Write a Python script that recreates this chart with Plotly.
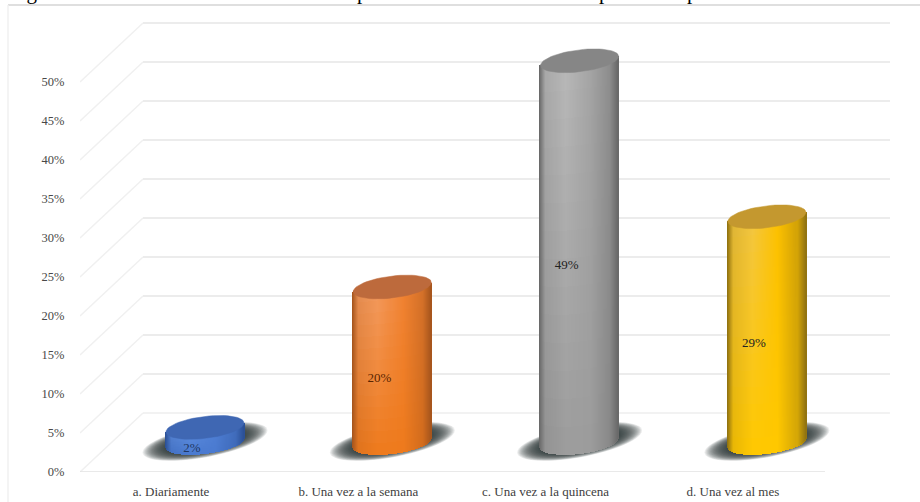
import numpy as np
import plotly.graph_objects as go

categories = ["a. Diariamente", "b. Una vez a la semana", "c. Una vez a la quincena", "d. Una vez al mes"]
values = [2, 20, 49, 29]
value_labels = ["2%", "20%", "49%", "29%"]
label_colors = ["#1f3864", "#5a2500", "#222222", "#222222"]
y_ticks = [0, 5, 10, 15, 20, 25, 30, 35, 40, 45, 50]
y_tick_labels = ["0%", "5%", "10%", "15%", "20%", "25%", "30%", "35%", "40%", "45%", "50%"]

# edge, light, mid, dark shades across each cylinder; top cap; lower-body tint
edge_colors = ["#2c5197", "#a8561d", "#6a6a6a", "#937410"]
light_colors = ["#5f8fe0", "#f39a5e", "#b8b8b8", "#f3c640"]
mid_colors = ["#4f7fd4", "#f08232", "#a4a4a4", "#fcc000"]
cap_colors = ["#3f67b3", "#bd6a3c", "#868686", "#c4982f"]
low_colors = ["#4a7ad0", "#ee7a1c", "#9c9c9c", "#ffc800"]

# scale: 187.3 px per category, 7.8 px per percentage point
PX_X = 187.3
PX_Y = 7.8
X0_PX = 205
PLOT_L, PLOT_R, PLOT_T, PLOT_B = 80, 900, 5, 472
x_range = [(PLOT_L - X0_PX) / PX_X, (PLOT_R - X0_PX) / PX_X]
y_range = [0, (PLOT_B - PLOT_T) / PX_Y]

half_w = 39 / PX_X
base_level = 29 / PX_Y
tilt = 4.5 / PX_Y
minor = 11 / PX_Y
depth_x = 63 / PX_X
depth_y = 59 / PX_Y
floor_end = (825 - X0_PX) / PX_X
wall_end = (890 - X0_PX) / PX_X


def hex_rgb(c):
    return np.array([int(c[j:j + 2], 16) for j in (1, 3, 5)], dtype=float)


def mix(a, b, f):
    return a + (b - a) * f


def rgb_str(c):
    return "rgb(%d,%d,%d)" % tuple(np.clip(np.round(c), 0, 255))


def shade(i, u, f):
    e, l, m = hex_rgb(edge_colors[i]), hex_rgb(light_colors[i]), hex_rgb(mid_colors[i])
    lo = hex_rgb(low_colors[i])
    l2 = mix(lo, l, f)
    m2 = mix(lo, m, f)
    stops_u = [-1.0, -0.85, -0.35, 0.3, 0.8, 1.0]
    stops_c = [e, mix(e, l2, 0.8), l2, m2, mix(m2, e, 0.4), e]
    return np.array([np.interp(u, stops_u, [c[k] for c in stops_c]) for k in range(3)])


def ellipse(cx, cy, sa, st, ss):
    t = np.linspace(0, 2 * np.pi, 61)
    return cx + sa * np.cos(t), cy + st * np.cos(t) + ss * np.sin(t)


fig = go.Figure()
shapes = []


def line_shape(xs, ys, color, width):
    path = "M " + " L ".join(f"{a:.4f},{b:.4f}" for a, b in zip(xs, ys))
    shapes.append(dict(type="path", path=path, xref="x", yref="y", layer="below",
                       line=dict(color=color, width=width)))


x_front = x_range[0]
for v in y_ticks:
    line_shape([x_front, x_front + depth_x], [v, v + depth_y], "#f0f0f0", 1.5)
    if v > 0:
        line_shape([x_front + depth_x, wall_end], [v + depth_y, v + depth_y], "#ececec", 2)
line_shape([x_front + depth_x, wall_end], [depth_y, depth_y], "#e6e6e6", 1.2)
line_shape([x_front, floor_end], [0, 0], "#e2e2e2", 1.5)

# soft shadows on the floor
for i in range(len(values)):
    for s in np.linspace(1.0, 0.62, 24):
        xs, ys = ellipse(i, base_level + 0.2, half_w * 1.6 * s, 11 / PX_Y * s, 16 / PX_Y * s)
        path = "M " + " L ".join(f"{a:.4f},{b:.4f}" for a, b in zip(xs, ys)) + " Z"
        shapes.append(dict(type="path", path=path, xref="x", yref="y", layer="below",
                           fillcolor="rgba(45,50,58,0.09)", line=dict(width=0)))

# cylinder bodies
n_slices = 78
n_bands = 14
bx, by, bb, bc = [], [], [], []
us = np.linspace(-1, 1, n_slices)
for i, val in enumerate(values):
    top = base_level + val
    for u in us:
        lower = base_level + tilt * u - minor * np.sqrt(max(0, 1 - u * u))
        upper = top + tilt * u
        edges = np.linspace(lower, upper, n_bands + 1)
        for k in range(n_bands):
            bx.append(i + u * half_w)
            bb.append(edges[k])
            by.append(upper - edges[k])
            bc.append(rgb_str(shade(i, u, (k + 0.5) / n_bands)))

fig.add_trace(go.Bar(x=bx, y=by, base=bb, width=1.6 / PX_X,
                     marker=dict(color=bc, line=dict(width=0)),
                     hoverinfo="skip", showlegend=False))

# top caps
for i, val in enumerate(values):
    xs, ys = ellipse(i, base_level + val, half_w, tilt, minor)
    fig.add_trace(go.Scatter(x=xs, y=ys, mode="lines", fill="toself", fillcolor=cap_colors[i],
                             line=dict(color=cap_colors[i], width=0.5),
                             hoverinfo="skip", showlegend=False))

# value labels
fig.add_trace(go.Scatter(
    x=[i - 13 / PX_X for i in range(len(values))],
    y=[base_level + v / 2 - 1.8 for v in values],
    mode="text", text=value_labels, textposition="middle center",
    textfont=dict(family="Liberation Serif", size=13, color=label_colors),
    hoverinfo="skip", showlegend=False))

# frame of the chart
shapes.append(dict(type="line", xref="paper", yref="paper", x0=-72 / 820, x1=1.03, y0=1, y1=1,
                   layer="below", line=dict(color="#d4d4d4", width=1.5)))
shapes.append(dict(type="line", xref="paper", yref="paper", x0=-72 / 820, x1=-72 / 820, y0=1, y1=-30 / 467,
                   layer="below", line=dict(color="#f1f1f1", width=1.5)))

# only the lowest part of the heading survives in the picture
heading_bits = [("Figura", 8), ("p", 356), ("p", 598), ("p", 686)]
annotations = [dict(text=t, xref="paper", yref="paper", x=(px - PLOT_L) / (PLOT_R - PLOT_L),
                    y=1, xanchor="left", yanchor="bottom", yshift=0, showarrow=False,
                    font=dict(family="Liberation Serif", size=21, color="#000000"),
                    borderpad=0) for t, px in heading_bits]

fig.update_layout(
    width=920, height=502,
    margin=dict(l=PLOT_L, r=920 - PLOT_R, t=PLOT_T, b=502 - PLOT_B, pad=0, autoexpand=False),
    paper_bgcolor="#ffffff", plot_bgcolor="rgba(0,0,0,0)",
    barmode="overlay", bargap=0, showlegend=False,
    shapes=shapes, annotations=annotations,
    font=dict(family="Liberation Serif", size=12, color="#555555"),
    xaxis=dict(range=x_range, tickmode="array", automargin=False,
               tickvals=[i - 34 / PX_X for i in range(len(categories))], ticktext=categories,
               showgrid=False, zeroline=False, showline=False, ticks="outside", ticklen=7,
               tickcolor="rgba(0,0,0,0)", tickangle=0,
               tickfont=dict(family="Liberation Serif", size=13, color="#404040")),
    yaxis=dict(range=y_range, tickmode="array", tickvals=y_ticks, ticktext=y_tick_labels,
               automargin=False,
               showgrid=False, zeroline=False, showline=False, ticks="outside", ticklen=12,
               tickcolor="rgba(0,0,0,0)",
               tickfont=dict(family="Liberation Serif", size=12.5, color="#484848")),
)

fig.write_html("out.html", config=dict(displayModeBar=False),
               post_script="document.body.style.margin='0';document.body.style.overflow='hidden';")
